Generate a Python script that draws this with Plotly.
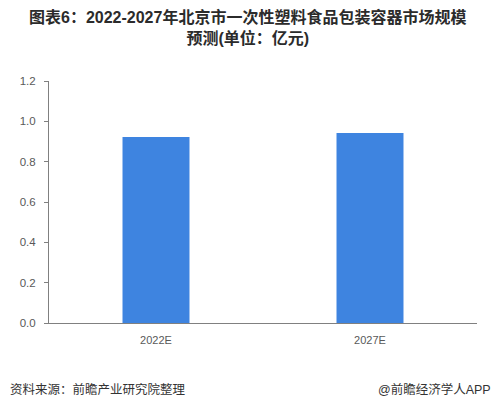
import plotly.graph_objects as go

categories = ["2022E", "2027E"]
values = [0.922, 0.942]
y_ticks = [0.0, 0.2, 0.4, 0.6, 0.8, 1.0, 1.2]
y_tick_labels = ["0.0", "0.2", "0.4", "0.6", "0.8", "1.0", "1.2"]

title_text = "<b>图表6：2022-2027年北京市一次性塑料食品包装容器市场规模<br>预测(单位：亿元)</b>"
source_text = "资料来源：前瞻产业研究院整理"
brand_text = "@前瞻经济学人APP"

font_family = "Arial, 'Liberation Sans', 'Noto Sans CJK SC', sans-serif"

PL, PR, PT, PB = 49, 17, 81, 87
W, H = 494, 410
pw, ph = W - PL - PR, H - PT - PB

fig = go.Figure()
fig.add_trace(go.Bar(
    x=categories, y=values,
    marker=dict(color="#3E84E0", line=dict(width=0)),
    hoverinfo="skip",
))

fig.update_layout(
    width=W, height=H,
    margin=dict(l=PL, r=PR, t=PT, b=PB),
    paper_bgcolor="white", plot_bgcolor="white",
    bargap=0.687,
    showlegend=False,
    font=dict(family=font_family, color="#595959", size=11),
    xaxis=dict(showline=True, linecolor="#808080", linewidth=1,
               ticks="outside", ticklen=7, tickcolor="rgba(0,0,0,0)",
               showgrid=False, tickfont=dict(size=11, color="#595959")),
    yaxis=dict(range=[0, 1.2], tickvals=y_ticks, ticktext=y_tick_labels,
               showline=True, linecolor="#808080", linewidth=1,
               ticks="outside", ticklen=4, tickcolor="#808080",
               ticklabelstandoff=6,
               showgrid=False, zeroline=False,
               tickfont=dict(size=11.5, color="#595959")),
    annotations=[
        dict(text=title_text, xref="paper", yref="paper",
             x=(W / 2 - PL) / pw, y=(H - PB - 28) / ph,
             xanchor="center", yanchor="middle", showarrow=False,
             font=dict(size=16, color="#2b2b2b", family=font_family)),
        dict(text=source_text, xref="paper", yref="paper", x=(8 - PL) / pw, y=(H - PB - 389) / ph,
             xanchor="left", yanchor="middle", showarrow=False,
             font=dict(size=12.5, color="#333333", family=font_family)),
        dict(text=brand_text, xref="paper", yref="paper", x=(W - 1 - PL) / pw, y=(H - PB - 389) / ph,
             xanchor="right", yanchor="middle", showarrow=False,
             font=dict(size=12.5, color="#333333", family=font_family)),
    ],
)

fig.write_html("out.html", config={"displayModeBar": False},
               post_script="document.body.style.margin='0';document.body.style.padding='0';")
